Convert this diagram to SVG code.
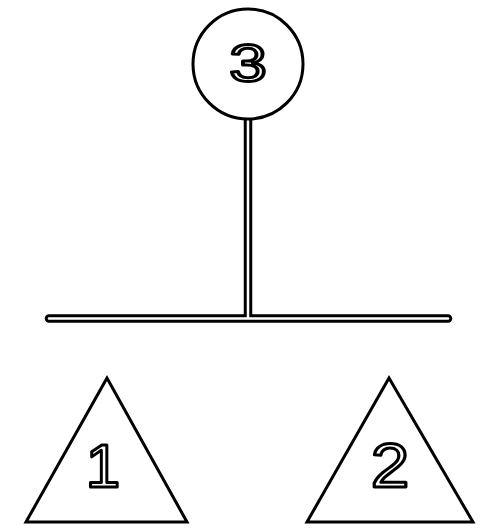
<svg xmlns="http://www.w3.org/2000/svg" width="491" height="529" viewBox="0 0 491 529">
<style>
.shape{fill:#fff;stroke:#000;stroke-width:3}
.outer{fill:none;stroke:#000;stroke-width:8.5}
.inner{fill:none;stroke:#fff;stroke-width:2.5}
.lbl{font-family:"Liberation Sans",Arial,sans-serif;fill:#fff;stroke:#000;stroke-width:3;stroke-linejoin:round;text-anchor:middle}
</style>
<rect width="491" height="529" fill="#fff"/>
<g id="connectors">
<line class="outer" x1="49" y1="318.5" x2="448" y2="318.5" stroke-linecap="round"/>
<line class="inner" x1="49" y1="318.5" x2="448" y2="318.5" stroke-linecap="round"/>
<line class="outer" x1="248" y1="118" x2="248" y2="315"/>
<line class="inner" x1="248" y1="116" x2="248" y2="318"/>
</g>
<g id="node3">
<circle class="shape" cx="248" cy="64" r="55"/>
<text class="lbl" transform="translate(248,81) scale(1.3,1)" font-size="52">3</text>
</g>
<g id="node1">
<polygon class="shape" points="107,378 26,522 187,522"/>
<text class="lbl" x="103" y="487" font-size="62">1</text>
</g>
<g id="node2">
<polygon class="shape" points="389,378 307,522 473,522"/>
<text class="lbl" transform="translate(390,487) scale(1.1,1)" font-size="63">2</text>
</g>
</svg>
